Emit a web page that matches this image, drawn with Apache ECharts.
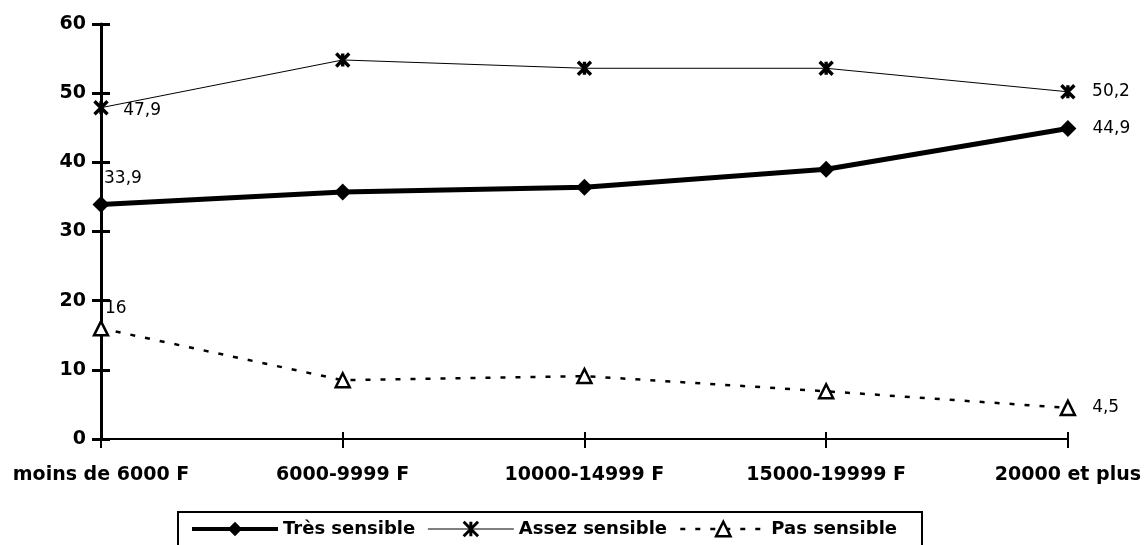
<!DOCTYPE html>
<html>
<head>
<meta charset="utf-8">
<script src="https://cdn.jsdelivr.net/npm/echarts@6/dist/echarts.min.js"></script>
<style>html,body{margin:0;padding:0;background:#fff}#c{width:1144px;height:545px}</style>
</head>
<body>
<div id="c"></div>
<script>
const categories = ['moins de 6000 F', '6000-9999 F', '10000-14999 F', '15000-19999 F', '20000 et plus'];
const tresSensible = [33.9, 35.7, 36.4, 39.0, 44.9];
const assezSensible = [47.9, 54.8, 53.6, 53.6, 50.2];
const pasSensible = [16, 8.5, 9.1, 6.9, 4.5];
const seriesNames = ['Très sensible', 'Assez sensible', 'Pas sensible'];
const yTicks = { min: 0, max: 60, interval: 10 };

const fmt = v => String(v).replace('.', ',');
const labelFont = { fontFamily: 'DejaVu Sans', fontSize: 17, color: '#000' };

function withLabels(values, firstLabel, lastLabel) {
  return values.map((v, i) => {
    if (i === 0) return { value: v, label: Object.assign({ show: true, formatter: fmt(v) }, labelFont, firstLabel) };
    if (i === values.length - 1) return { value: v, label: Object.assign({ show: true, formatter: fmt(v) }, labelFont, lastLabel) };
    return v;
  });
}
const lastRight = { position: 'right', distance: 16 };

const starPath = 'path://M0,0L10,10M10,0L0,10M5,0L5,10';

const chart = echarts.init(document.getElementById('c'), null, { renderer: 'canvas' });
chart.setOption({
  backgroundColor: '#fff',
  animation: false,
  grid: { left: 101, right: 76, top: 24, bottom: 106 },
  xAxis: [
    {
      type: 'category', data: categories, boundaryGap: false, position: 'bottom',
      axisLine: { lineStyle: { color: '#000', width: 2 } },
      axisTick: { show: true, length: 9, lineStyle: { color: '#000', width: 2 } },
      axisLabel: { color: '#000', fontFamily: 'DejaVu Sans', fontWeight: 'bold', fontSize: 19, margin: 27, interval: 0 },
      splitLine: { show: false }
    },
    {
      type: 'category', data: categories, boundaryGap: false, position: 'bottom',
      axisLine: { show: false },
      axisTick: { show: true, inside: true, length: 7, lineStyle: { color: '#000', width: 2 } },
      axisLabel: { show: false }, splitLine: { show: false }
    }
  ],
  yAxis: [
    {
      type: 'value', min: yTicks.min, max: yTicks.max, interval: yTicks.interval, position: 'left',
      axisLine: { show: true, lineStyle: { color: '#000', width: 3 } },
      axisTick: { show: true, length: 9, lineStyle: { color: '#000', width: 3 } },
      axisLabel: { color: '#000', fontFamily: 'DejaVu Sans', fontWeight: 'bold', fontSize: 19, margin: 15 },
      splitLine: { show: false }
    },
    {
      type: 'value', min: yTicks.min, max: yTicks.max, interval: yTicks.interval, position: 'left',
      axisLine: { show: false },
      axisTick: { show: true, inside: true, length: 9, lineStyle: { color: '#000', width: 3 } },
      axisLabel: { show: false }, splitLine: { show: false }
    }
  ],
  legend: {
    left: 185, top: 515,
    itemWidth: 86, itemHeight: 18, itemGap: 12,
    textStyle: { color: '#000', fontFamily: 'DejaVu Sans', fontWeight: 'bold', fontSize: 18 },
    data: [
      { name: seriesNames[0], lineStyle: { width: 4, color: '#000' } },
      { name: seriesNames[1], lineStyle: { width: 1.2, color: '#000' }, itemStyle: { color: '#000', borderColor: '#000', borderWidth: 3 } },
      { name: seriesNames[2], lineStyle: { width: 2.5, color: '#000' }, itemStyle: { color: '#fff', borderColor: '#000', borderWidth: 2.5 } }
    ]
  },
  graphic: [{
    type: 'rect', z: 100, silent: true,
    shape: { x: 178, y: 512, width: 744, height: 45 },
    style: { fill: 'none', stroke: '#000', lineWidth: 2 }
  }],
  series: [
    {
      name: seriesNames[0], type: 'line', xAxisIndex: 0, yAxisIndex: 0,
      data: withLabels(tresSensible, { position: 'top', align: 'left', distance: 9, offset: [3, 0] }, lastRight),
      symbol: 'diamond', symbolSize: 17,
      lineStyle: { color: '#000', width: 5 },
      itemStyle: { color: '#000', borderColor: '#000', borderWidth: 0 },
      z: 3
    },
    {
      name: seriesNames[1], type: 'line', xAxisIndex: 0, yAxisIndex: 0,
      data: withLabels(assezSensible, { position: 'right', distance: 14, offset: [0, 3] }, lastRight),
      symbol: starPath, symbolSize: 13,
      lineStyle: { color: '#000', width: 1 },
      itemStyle: { color: '#000', borderColor: '#000', borderWidth: 3.4 },
      z: 3
    },
    {
      name: seriesNames[2], type: 'line', xAxisIndex: 0, yAxisIndex: 0,
      data: withLabels(pasSensible, { position: 'top', align: 'left', distance: 3, offset: [4, 0] }, lastRight),
      symbol: 'triangle', symbolSize: 14,
      lineStyle: { color: '#000', width: 2.5, type: [5, 10] },
      itemStyle: { color: '#fff', borderColor: '#000', borderWidth: 2.5 },
      z: 3
    }
  ]
});
</script>
</body>
</html>
